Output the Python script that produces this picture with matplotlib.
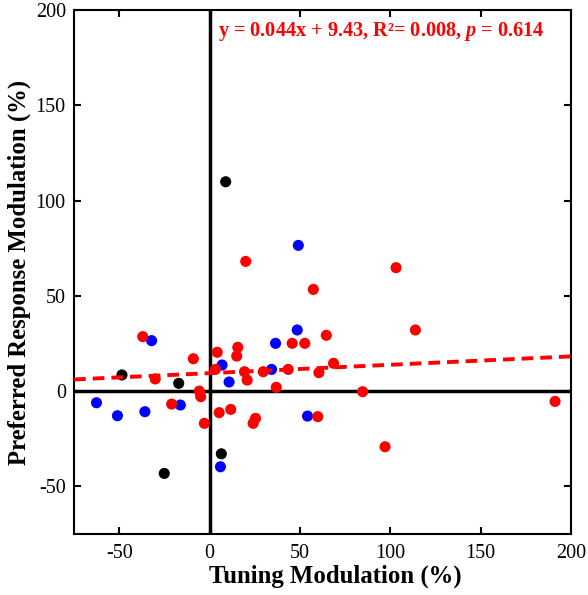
import matplotlib
matplotlib.use('Agg')
from matplotlib import pyplot as plt
import numpy as np

plt.rcParams['font.family'] = ['Liberation Serif', 'DejaVu Serif']
plt.rcParams['axes.unicode_minus'] = False
plt.rcParams['mathtext.fontset'] = 'custom'
plt.rcParams['mathtext.rm'] = 'Liberation Serif:bold'
plt.rcParams['mathtext.it'] = 'Liberation Serif:italic:bold'
plt.rcParams['mathtext.bf'] = 'Liberation Serif:bold'

# data
red_x = [-37.0, -9.0, 4.2, 15.6, 15.0, 45.7, 52.7, 3.2, 19.3, 20.8, 29.7, 43.5, 36.9,
         -30.1, -5.7, -4.9, -21.0, -2.9, 5.3, 11.7, 25.4, 24.1, 59.9, 103.2, 57.4,
         113.9, 64.6, 60.5, 68.6, 84.7, 191.2, 97.1, 20.0]
red_y = [28.6, 17.0, 20.4, 23.0, 18.4, 25.1, 25.1, 11.4, 10.2, 5.8, 10.2, 11.4, 2.0,
         6.4, 0.0, -2.9, -6.8, -16.9, -11.3, -9.6, -14.3, -16.9, -13.4, 64.8, 53.4,
         32.1, 29.3, 9.7, 14.6, -0.3, -5.4, -29.2, 68.1]
blue_x = [-32.1, 36.5, 48.5, 6.9, 10.8, 34.3, -62.6, -51.0, -35.8, -16.2, 54.2, 6.0, 49.1]
blue_y = [26.5, 25.1, 32.1, 13.7, 4.8, 11.4, -6.1, -12.9, -10.8, -7.3, -13.1, -39.7, 76.5]
black_x = [8.9, -48.5, -17.1, 6.5, -25.1]
black_y = [109.9, 8.5, 4.1, -32.9, -43.2]

slope = 0.044
intercept = 9.43

fig = plt.figure(figsize=(5.88, 5.95), dpi=100)
ax = fig.add_axes([0.126, 0.1025, 0.845, 0.8805])

ax.axhline(0, color='k', lw=2.5, zorder=1)
ax.axvline(0, color='k', lw=2.5, zorder=1)

ax.scatter(blue_x, blue_y, s=64, color='#0000ff', edgecolors='none', zorder=2)
ax.scatter(red_x, red_y, s=64, color='#ff0000', edgecolors='none', zorder=2)
ax.scatter(black_x, black_y, s=64, color='k', edgecolors='none', zorder=3)

fx = np.array([-75, 200])
ax.plot(fx, slope * fx + intercept, color='#ff0000', ls=(0, (3, 1.8)), lw=2.8, zorder=4)

ax.set_xlim(-75, 200)
ax.set_ylim(-75, 200)
ax.set_xticks([-50, 0, 50, 100, 150, 200])
ax.set_yticks([-50, 0, 50, 100, 150, 200])
ax.tick_params(direction='in', top=True, right=True, labelsize=14.5, length=5, width=1.5)
ax.tick_params(axis='x', pad=7)
ax.tick_params(axis='y', pad=6)
for s in ax.spines.values():
    s.set_linewidth(1.5)

ax.set_xlabel('Tuning Modulation (%)', fontsize=17.8, fontweight='bold', labelpad=1, x=0.525)
ax.set_ylabel('Preferred Response Modulation (%)', fontsize=17.8, fontweight='bold', labelpad=3)

ax.text(0.29, 0.96, r'y = 0.044x + 9.43, R²= 0.008, $p$ = 0.614',
        transform=ax.transAxes, color='#ff0000', fontsize=14.6, fontweight='bold',
        va='center', ha='left')

plt.savefig('out.png', dpi=100)
